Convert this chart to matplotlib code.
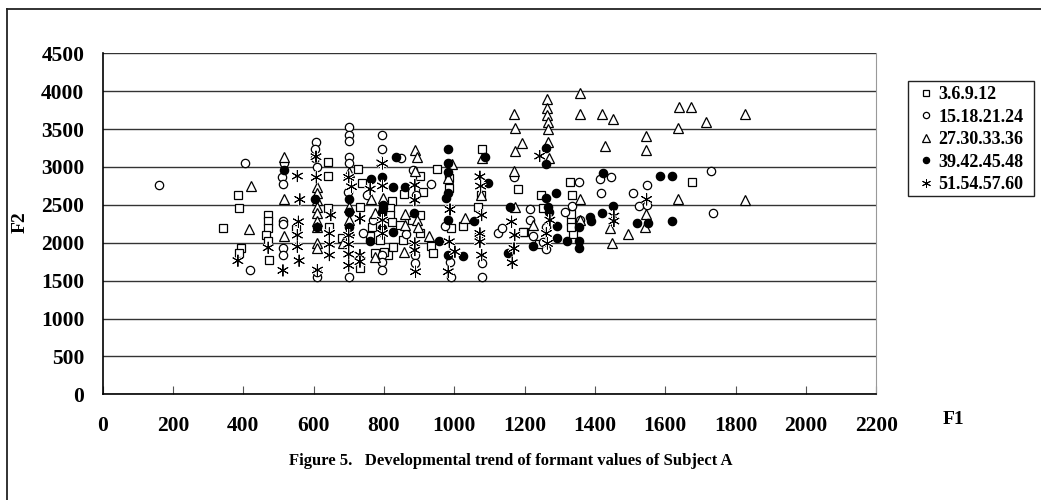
import numpy as np
import matplotlib
matplotlib.use('Agg')
import matplotlib.pyplot as plt
import matplotlib.patheffects as pe

# values, one (F1, F2) list per age group
labels = ['3.6.9.12', '15.18.21.24', '27.30.33.36', '39.42.45.48', '51.54.57.60']

sq_f1 = [384,387,343,395,389,470,470,470,465,470,473,550,640,642,642,644,727,737,732,680,732,765,775,
         952,904,858,912,822,817,817,822,902,902,855,825,812,933,940,985,986,992,1026,1078,1075,1068,
         1182,1198,1246,1253,1335,1329,1331,1338,1333,1331,1677,790,800,760,845,880,1195,1240]
sq_f2 = [2625,2462,2194,1934,1859,2361,2282,2194,2101,2026,1776,2180,3064,2884,2453,2211,2967,2792,2466,2057,1662,2211,1859,
         2967,2880,2642,2673,2554,2453,2365,2277,2365,2123,2035,1947,1837,1960,1859,2849,2717,2197,2220,3236,2629,2466,
         2712,2145,2629,2453,2629,2801,2290,2114,2202,2378,2801,2040,1880,2090,2230,2300,2140,1990]

ci_f1 = [162,405,420,516,509,514,513,513,514,514,608,605,604,609,609,609,700,700,700,700,700,697,700,794,794,
         751,768,740,794,796,794,850,934,883,890,862,888,888,973,988,990,1078,1078,1071,1170,1125,1137,1215,1215,
         1225,1262,1262,1253,1316,1335,1355,1414,1447,1416,1509,1549,1526,1547,1357,1730,1735]
ci_f2 = [2761,3046,1640,3046,2862,2774,2290,2245,1925,1837,3332,3236,3113,3003,1552,1620,3521,3420,3345,3135,3047,2673,1552,3420,3236,
         2629,2299,2132,1837,1750,1640,3120,2774,2958,2629,2114,1837,1728,2220,1740,1552,1737,1552,2114,2870,2123,2198,2439,2299,
         2092,2211,1912,2013,2400,2488,2801,2840,2862,2651,2651,2761,2488,2497,2299,2950,2390]

tr_f1 = [422,417,516,516,516,609,609,609,609,609,609,609,609,609,700,700,700,700,685,762,775,775,798,
         1263,1263,1263,1266,1266,1266,1270,1357,1359,1420,1450,1639,1673,1717,1637,1545,1428,1545,1192,1172,1172,1169,1170,
         888,893,888,995,983,1078,1075,1172,1225,1357,1357,1637,1545,1542,1443,1493,1449,1030,929,857,860,860,893,898,1828,1828]
tr_f2 = [2748,2185,3126,2572,2092,2739,2651,2563,2475,2387,2290,2211,1991,1925,2937,2475,2299,2167,1991,2572,2387,1815,2585,
         3891,3780,3692,3596,3500,3324,3122,3978,3697,3697,3636,3794,3785,3587,3509,3412,3280,3223,3311,3214,3509,3697,2950,
         3223,3135,2950,3038,2849,3113,2629,2475,2233,2572,2299,2572,2378,2202,2189,2114,2000,2321,2092,1881,2378,2233,2299,2211,3700,2570]

fi_f1 = [516,604,609,701,701,701,762,794,798,794,796,760,834,827,860,798,886,827,957,983,983,983,983,978,983,983,
         1026,1087,1097,1056,1262,1262,1288,1262,1267,1270,1158,1153,1291,1291,1223,1322,1354,1355,1355,1386,1388,
         1420,1422,1452,1520,1552,1586,1620,1620]
fi_f2 = [2958,2572,2211,2572,2409,2211,2836,2862,2497,2409,2189,2026,3125,2738,2730,2453,2387,2145,2026,3233,3047,2937,2651,2585,2299,1837,
         1825,3135,2792,2290,3253,3038,2651,2585,2475,2400,2475,1859,2220,2057,1960,2026,2211,2026,1925,2343,2290,
         2387,2915,2488,2255,2255,2884,2884,2290]

st_f1 = [385,471,513,554,561,557,554,554,559,608,607,611,649,645,645,645,700,708,700,700,700,700,732,732,732,761,794,
         796,796,796,796,888,888,888,888,890,988,986,1002,983,1073,1075,1078,1073,1073,1078,1243,1163,1172,1170,1165,
         1272,1262,1265,1547,1454,1454]
st_f2 = [1763,1934,1635,2880,2572,2277,2101,1947,1763,2862,3135,1640,2365,2123,1980,1837,2862,2739,2100,1980,1850,1700,2321,1837,1750,2708,3055,
         3047,2750,2299,2123,2761,2563,1991,1903,1617,2439,2013,1881,1617,2871,2748,2365,2123,2013,1837,3144,2277,2101,1925,1736,
         2299,2123,1991,2572,2352,2286]

plt.rcParams['font.family'] = ['Liberation Serif', 'DejaVu Serif']
plt.rcParams['font.weight'] = 'bold'

W, H = 1041, 500
fig = plt.figure(figsize=(W/100, H/100), dpi=100, facecolor='white')

# outer frame, only left and top reach the picture
fig.add_artist(plt.Line2D([7/W, 7/W], [0, 1-9/H], color='#222222', lw=1.3))
fig.add_artist(plt.Line2D([7/W, 1], [1-9/H, 1-9/H], color='#222222', lw=1.3))

ax = fig.add_axes([102.5/W, 1-394.3/H, (876.3-102.5)/W, (394.3-53.3)/H])
ax.set_xlim(0, 2200)
ax.set_ylim(0, 4500)
ax.set_xticks(np.arange(0, 2201, 200))
ax.set_yticks(np.arange(0, 4501, 500))
ax.yaxis.grid(True, color='#333333', lw=1.0)
ax.set_axisbelow(True)
ax.tick_params(axis='both', labelsize=15.5, length=0)
ax.tick_params(axis='y', pad=13)
ax.tick_params(axis='x', direction='in', length=6, width=0.8, color='#555555', pad=15.5)
ax.spines['top'].set_visible(False)
ax.spines['left'].set_linewidth(1.2)
ax.spines['bottom'].set_linewidth(1.2)
ax.spines['right'].set_color('#999999')

ms = 6.0
ax.plot(sq_f1, sq_f2, ls='', marker='s', ms=ms-0.2, mfc='white', mec='black', mew=0.9, label=labels[0], clip_on=False)
ax.plot(ci_f1, ci_f2, ls='', marker='o', ms=ms, mfc='white', mec='black', mew=0.9, label=labels[1], clip_on=False)
ax.plot(tr_f1, tr_f2, ls='', marker='^', ms=ms+0.8, mfc='white', mec='black', mew=0.9, label=labels[2], clip_on=False)
ax.plot(fi_f1, fi_f2, ls='', marker='o', ms=ms, mfc='black', mec='black', mew=0.9, label=labels[3], clip_on=False)
stars, = ax.plot(st_f1, st_f2, ls='', marker=(6, 2, 0), ms=ms+2.6, mec='black', mew=0.7, label=labels[4], clip_on=False)
stars.set_path_effects([pe.withStroke(linewidth=2.0, foreground='white')])

# legend box drawn by hand, its paddings are not even in the picture
fig.add_artist(plt.Rectangle((908/W, 1-196/H), 126/W, 115/H, fc='white', ec='#222222', lw=1.0,
                             transform=fig.transFigure, zorder=2))
handles, names = ax.get_legend_handles_labels()
leg = fig.legend(handles, names, loc='upper left', bbox_to_anchor=(915/W, 1-86/H),
                 bbox_transform=fig.transFigure, fontsize=13, frameon=False, borderaxespad=0,
                 borderpad=0, handletextpad=0.1, labelspacing=0.31, handlelength=1.2, markerscale=0.75)
leg.set_zorder(5)
for h in leg.legend_handles:
    h.set_path_effects([])

fig.text(953/W, 1-419/H, 'F1', fontsize=14, ha='center', va='center')
fig.text(20/W, 1-222/H, 'F2', fontsize=14, ha='center', va='center', rotation=90)
fig.text(510.5/W, 1-461/H, 'Figure 5.   Developmental trend of formant values of Subject A',
         fontsize=12, ha='center', va='center')

fig.savefig('out.png', dpi=100)
